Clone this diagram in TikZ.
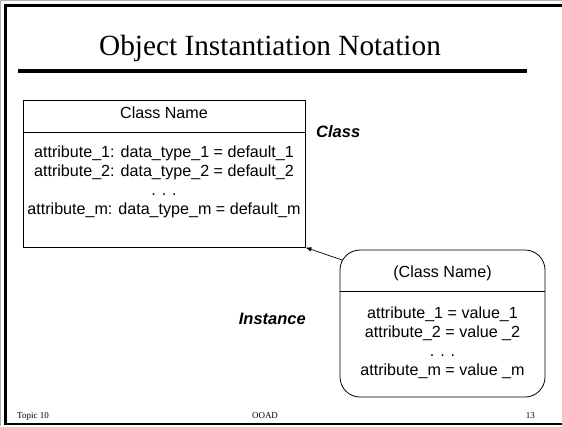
\documentclass[tikz,border=0pt]{standalone}
\usepackage{fontspec}
\setmainfont{Liberation Serif}
\newfontfamily\arial{Liberation Sans}
\usetikzlibrary{arrows.meta}
\tikzset{
  frame/.style={line width=2.4pt,black},
  body/.style={font=\arial\fontsize{16.1}{19}\selectfont,align=center,anchor=center,inner sep=0pt},
  umlbox/.style={draw,line width=0.8pt,inner sep=0pt},
  label/.style={font=\arial\bfseries\itshape\fontsize{16.5}{18}\selectfont,inner sep=0pt},
  foot/.style={font=\fontsize{9}{10}\selectfont,inner sep=0pt},
  conn/.style={line width=0.7pt,-{Latex[length=6pt,width=4.5pt]}}
}
\begin{document}
\begin{tikzpicture}[x=1pt,y=-1pt]
\useasboundingbox (0,0) rectangle (562,426);
% slide frame
\draw[gray!60,line width=0.8pt] (0.5,426) -- (0.5,0.5) -- (562,0.5);
\draw[frame] (5.5,424) -- (5.5,5.5) -- (562,5.5);
\draw[frame] (4.3,424) -- (562,424);
% title
\node (title) at (270,48) {\fontsize{29.3}{32}\selectfont Object Instantiation Notation};
\draw[line width=3.2pt] (18,71) -- (527,71);
% class box
\node[umlbox,minimum width=282pt,minimum height=147pt] (cls) at (164,173.5) {};
\draw[line width=0.8pt] (23,132) -- (305,132);
\node[body] (cname) at (164,113) {Class Name};
\node[body] (cattr) at (164,182) {attribute\_1: data\_type\_1 = default\_1\\attribute\_2: data\_type\_2 = default\_2\\. . .\\attribute\_m: data\_type\_m = default\_m};
\node[label,anchor=west] (lclass) at (316,132) {Class};
% instance box
\node[umlbox,rounded corners=20pt,minimum width=205pt,minimum height=147pt] (inst) at (442.5,323.5) {};
\draw[line width=0.8pt] (340,291) -- (545,291);
\node[body] (iname) at (442.5,273) {(Class Name)};
\node[body] (iattr) at (442.5,343) {attribute\_1 = value\_1\\attribute\_2 = value \_2\\. . .\\attribute\_m = value \_m};
\node[label,anchor=east] (linst) at (306,319) {Instance};
% connector
\coordinate (instc) at (342,260);
\draw[conn] (instc) -- (cls.south east);
% footer
\node[foot,anchor=west] (ft1) at (17,416) {Topic 10};
\node[foot] (ft2) at (265,416) {OOAD};
\node[foot,anchor=east] (ft3) at (535,416) {13};
\end{tikzpicture}
\end{document}
